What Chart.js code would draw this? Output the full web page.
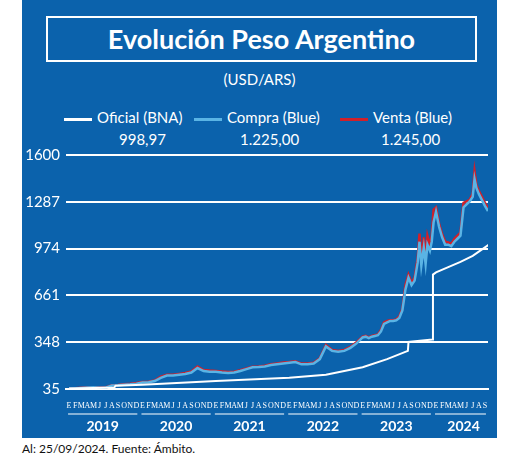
<!DOCTYPE html>
<html><head><meta charset="utf-8">
<script src="https://cdn.jsdelivr.net/npm/chart.js@4"></script>
<style>
body{margin:0;width:520px;height:471px;background:#fff;font-family:Lato,"Open Sans",sans-serif;position:relative;overflow:hidden}
#box{position:absolute;left:22px;top:0;width:475px;height:438px;background:#0b62ac}
#title{position:absolute;left:24px;top:16px;width:427px;height:42px;border:2px solid #fff;color:#fff;font-weight:bold;font-size:27px;text-align:center;line-height:42px}
.t{position:absolute;color:#fff;font-size:15px}
#foot{position:absolute;left:22px;top:441px;font-size:12px;color:#111}
canvas{position:absolute;left:22px;top:140px}
.sw{display:inline-block;width:28px;height:3px;vertical-align:middle;margin-right:5px}
</style></head><body>
<div id="box">
<div id="title">Evolución Peso Argentino</div>
<div class="t" style="left:0;width:475px;text-align:center;top:70px">(USD/ARS)</div>
<div class="t" style="left:42px;top:108px"><span class="sw" style="background:#fff"></span>Oficial (BNA)</div>
<div class="t" style="left:172px;top:108px"><span class="sw" style="background:#5ab4e5"></span>Compra (Blue)</div>
<div class="t" style="left:318px;top:108px"><span class="sw" style="background:#d0202a"></span>Venta (Blue)</div>
<div class="t" style="left:97px;top:130px">998,97</div>
<div class="t" style="left:218px;top:130px">1.225,00</div>
<div class="t" style="left:359px;top:130px">1.245,00</div>
</div>
<div id="foot">Al: 25/09/2024. Fuente: Ámbito.</div>
<canvas id="c" width="475" height="298"></canvas>
<script>
const monthLabels=["E","F","M","A","M","J","J","A","S","O","N","D"];
const years=["2019","2020","2021","2022","2023","2024"];
const yTicks=[35,348,661,974,1287,1600];
// time in months since Jan 2019
const blueT=[0,1,2,3,4,5,6,7,8,9,10,11,12,13,14,15,16,17,18,19,20,21,22,23,24,25,26,27,28,29,30,31,32,33,34,35,36,37,38,39,40,41,42,43,44,45,46,47,
48,48.5,49,49.5,50,50.5,51,51.5,52,52.5,53,53.5,54,54.5,55,55.5,56,56.5,57,57.3,57.6,58,58.3,58.6,59,59.3,59.6,
60,60.5,61,61.5,62,62.5,63,63.5,64,64.5,65,65.5,66,66.3,66.6,67,67.5,68,68.5];
const compra=[38,39,42,45,46,44,44,58,60,63,66,70,78,80,88,110,125,125,130,135,145,175,155,150,150,145,142,145,155,168,180,182,185,195,200,205,210,215,200,200,205,235,320,290,285,290,310,340,
380,385,375,385,390,395,420,470,480,490,490,495,510,560,700,780,730,760,880,1020,860,980,870,1000,960,1020,1150,
1220,1120,1050,1000,1000,990,1020,1040,1060,1250,1270,1290,1320,1440,1380,1340,1300,1260,1225];
const venta=[39,40,43,46,47,45,45,60,62,66,70,75,82,84,92,118,130,130,136,142,152,185,162,158,156,152,148,150,160,172,184,186,190,200,206,212,215,220,205,205,210,240,330,296,290,296,316,348,
385,390,380,390,395,400,430,480,490,495,495,500,520,570,730,800,745,780,910,1075,900,1050,900,1060,1000,1060,1235,
1250,1140,1070,1020,1015,1005,1040,1060,1080,1280,1290,1300,1340,1490,1400,1360,1320,1280,1245];
const oficialT=[0,6,7.4,7.6,12,24,36,42,48,52,55.4,55.5,59.4,59.5,60,62,64,66,68.6];
const oficial=[38,43,45,57,63,88,110,130,180,235,290,350,366,800,815,850,885,925,999];
const pts=(t,v)=>t.map((x,i)=>({x,y:v[i]}));
const yearLines={id:'yl',afterDraw(ch){const c=ch.ctx,x=ch.scales.x,b=ch.chartArea.bottom;c.save();c.strokeStyle='#fff';c.lineWidth=1.2;
 years.forEach((y,i)=>{const s=i*12, e=Math.min(i*12+11,68);c.beginPath();c.moveTo(x.getPixelForValue(s)-1,b+25);c.lineTo(x.getPixelForValue(e)+1,b+25);c.stroke();});c.restore();}};
new Chart(document.getElementById('c'),{type:'line',
data:{datasets:[
{data:pts(oficialT,oficial),borderColor:'#fff',borderWidth:2,pointRadius:0,tension:0,order:1},
{data:pts(blueT,venta),borderColor:'#d0202a',borderWidth:2.5,pointRadius:0,order:3},
{data:pts(blueT,compra),borderColor:'#5ab4e5',borderWidth:2.5,pointRadius:0,order:2}]},
options:{animation:false,responsive:false,layout:{padding:{top:6,right:9}},
plugins:{legend:{display:false},tooltip:{enabled:false}},
scales:{
 y:{min:35,max:1600,afterBuildTicks(s){s.ticks=yTicks.map(v=>({value:v}))},afterFit(s){s.width=44},
  grid:{color:'#fff',lineWidth:2,drawTicks:false},border:{display:false},
  ticks:{color:'#fff',font:{family:'Lato',size:15},padding:6,callback:v=>String(v)}},
 x:{type:'linear',min:-0.5,max:68.5,afterBuildTicks(s){s.ticks=[...Array(69).keys()].map(v=>({value:v}))},afterFit(s){s.height=20},
  grid:{display:false},border:{display:true,color:'#fff',width:2},
  ticks:{color:'#fff',autoSkip:false,maxRotation:0,font:{family:'Liberation Sans Narrow',size:8},padding:4,callback:v=>monthLabels[v%12]}},
 x2:{type:'linear',position:'bottom',min:-0.5,max:68.5,afterBuildTicks(s){s.ticks=[5.5,17.5,29.5,41.5,53.5,64.5].map(v=>({value:v}))},afterFit(s){s.height=29},
  grid:{display:false},border:{display:false},
  ticks:{color:'#fff',autoSkip:false,maxRotation:0,font:{family:'Lato',size:14,weight:'bold'},padding:1,callback:(v)=>years[[5.5,17.5,29.5,41.5,53.5,64.5].indexOf(v)]}}
}},plugins:[yearLines]});
</script></body></html>
